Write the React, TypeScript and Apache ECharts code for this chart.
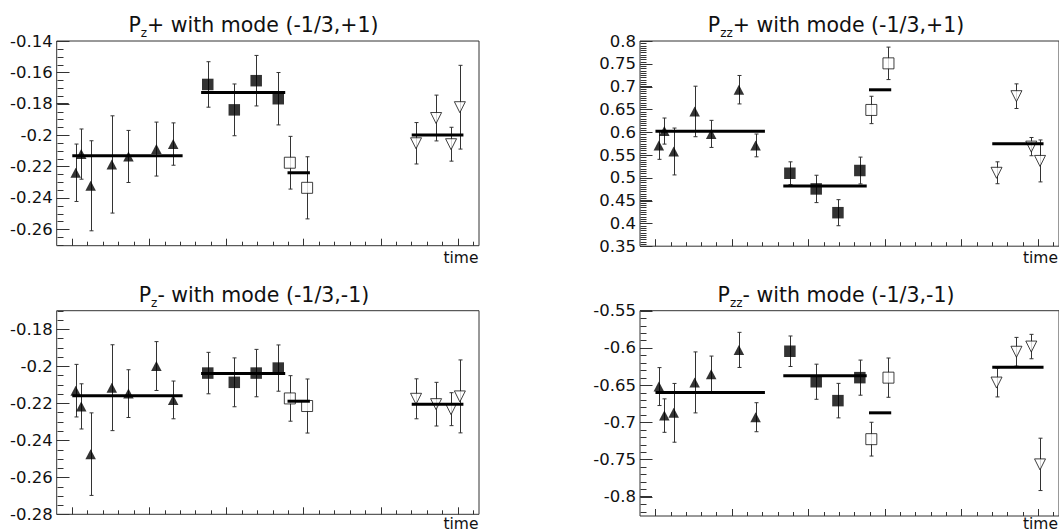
import React, { useEffect, useRef } from "react";
import * as echarts from "echarts";

// ---------- data ----------
// time positions (arbitrary units; one minor tick = 1)
const triTimes = [0.22, 0.58, 1.19, 2.56, 3.64, 5.45, 6.54];
const sqTimes = [8.78, 10.5, 11.92, 13.35];
const openTimes = [14.1, 15.22];
const downTimes = [22.28, 23.58, 24.55, 25.12];
// extent of each group's mean line
const triSpan = [0, 7.15];
const sqSpan = [8.35, 13.8];
const openSpan = [13.95, 15.4];
const downSpan = [22.0, 25.35];

// Pz+ with mode (-1/3,+1)
const pzPlusTri = [-0.224, -0.2121, -0.2323, -0.2187, -0.2136, -0.2089, -0.2057];
const pzPlusTriErr = [0.0183, 0.016, 0.0287, 0.031, 0.0166, 0.0172, 0.0135];
const pzPlusSq = [-0.1677, -0.1839, -0.1653, -0.1768];
const pzPlusSqErr = [0.0145, 0.0165, 0.0161, 0.0167];
const pzPlusOpen = [-0.2176, -0.2336];
const pzPlusOpenErr = [0.0168, 0.0198];
const pzPlusDown = [-0.2052, -0.1891, -0.2058, -0.1822];
const pzPlusDownErr = [0.0132, 0.0146, 0.0108, 0.0267];
const pzPlusMeans = [-0.2131, -0.1728, -0.224, -0.2];

// Pzz+ with mode (-1/3,+1)
const pzzPlusTri = [0.571, 0.6025, 0.5577, 0.6455, 0.5963, 0.6932, 0.571];
const pzzPlusTriErr = [0.0305, 0.0286, 0.0514, 0.0554, 0.0297, 0.0312, 0.025];
const pzzPlusSq = [0.51, 0.4756, 0.4235, 0.516];
const pzzPlusSqErr = [0.025, 0.03, 0.0286, 0.0294];
const pzzPlusOpen = [0.6488, 0.751];
const pzzPlusOpenErr = [0.03, 0.0356];
const pzzPlusDown = [0.511, 0.679, 0.5684, 0.537];
const pzzPlusDownErr = [0.024, 0.027, 0.02, 0.046];
const pzzPlusMeans = [0.602, 0.4822, 0.693, 0.5747];

// Pz- with mode (-1/3,-1)
const pzMinusTri = [-0.2132, -0.2217, -0.2475, -0.2116, -0.2148, -0.1999, -0.2182];
const pzMinusTriErr = [0.0142, 0.0122, 0.0223, 0.0232, 0.0129, 0.0132, 0.0102];
const pzMinusSq = [-0.2037, -0.2087, -0.2037, -0.201];
const pzMinusSqErr = [0.0112, 0.0132, 0.0128, 0.0125];
const pzMinusOpen = [-0.2174, -0.2215];
const pzMinusOpenErr = [0.0123, 0.0146];
const pzMinusDown = [-0.2176, -0.2205, -0.2232, -0.2163];
const pzMinusDownErr = [0.0108, 0.0118, 0.0089, 0.0197];
const pzMinusMeans = [-0.216, -0.2039, -0.2189, -0.2205];

// Pzz- with mode (-1/3,-1)
const pzzMinusTri = [-0.652, -0.691, -0.6873, -0.6464, -0.6355, -0.6027, -0.6932];
const pzzMinusTriErr = [0.0255, 0.0225, 0.0395, 0.041, 0.0245, 0.0236, 0.0195];
const pzzMinusSq = [-0.6045, -0.6455, -0.6709, -0.64];
const pzzMinusSqErr = [0.0205, 0.0236, 0.0232, 0.0236];
const pzzMinusOpen = [-0.7227, -0.64];
const pzzMinusOpenErr = [0.0227, 0.0264];
const pzzMinusDown = [-0.6466, -0.6052, -0.5982, -0.7566];
const pzzMinusDownErr = [0.0193, 0.0193, 0.0164, 0.0352];
const pzzMinusMeans = [-0.66, -0.6373, -0.6873, -0.6259];

// tick labels
const pzPlusTicks = [-0.26, -0.24, -0.22, -0.2, -0.18, -0.16, -0.14];
const pzPlusTickLabels = ["-0.26", "-0.24", "-0.22", "-0.2", "-0.18", "-0.16", "-0.14"];
const pzzPlusTicks = [0.35, 0.4, 0.45, 0.5, 0.55, 0.6, 0.65, 0.7, 0.75, 0.8];
const pzzPlusTickLabels = ["0.35", "0.4", "0.45", "0.5", "0.55", "0.6", "0.65", "0.7", "0.75", "0.8"];
const pzMinusTicks = [-0.28, -0.26, -0.24, -0.22, -0.2, -0.18];
const pzMinusTickLabels = ["-0.28", "-0.26", "-0.24", "-0.22", "-0.2", "-0.18"];
const pzzMinusTicks = [-0.8, -0.75, -0.7, -0.65, -0.6, -0.55];
const pzzMinusTickLabels = ["-0.8", "-0.75", "-0.7", "-0.65", "-0.6", "-0.55"];
const timeMajorTicks = [0, 5, 10, 15, 20, 25];
const timeMinorTicks = [0, 1, 2, 3, 4, 5, 6, 7, 8, 9, 10, 11, 12, 13, 14, 15, 16, 17, 18, 19, 20, 21, 22, 23, 24, 25, 26];

const titles = [
  { sub: "z", rest: "+ with mode (-1/3,+1)" },
  { sub: "zz", rest: "+ with mode (-1/3,+1)" },
  { sub: "z", rest: "- with mode (-1/3,-1)" },
  { sub: "zz", rest: "- with mode (-1/3,-1)" },
];
const xAxisTitle = "time";

// ---------- layout / style ----------
const FONT = '"DejaVu Sans", sans-serif';
const X_MIN = -1.01;
const X_MAX = 26.36;
const Y_MAJOR_LEN = 12;
const Y_MINOR_LEN = 6;

function steps(from: number, to: number, step: number): number[] {
  const out: number[] = [];
  const n = Math.round((to - from) / step);
  for (let i = 0; i <= n; i++) out.push(Math.round((from + i * step) * 10000) / 10000);
  return out;
}

const panels = [
  {
    grid: { left: 56.7, top: 41, width: 422.3, height: 204.7 },
    yMin: -0.2705, yMax: -0.14, ticks: pzPlusTicks, labels: pzPlusTickLabels,
    minor: steps(-0.27, -0.14, 0.005),
    tri: pzPlusTri, triErr: pzPlusTriErr, sq: pzPlusSq, sqErr: pzPlusSqErr,
    open: pzPlusOpen, openErr: pzPlusOpenErr, down: pzPlusDown, downErr: pzPlusDownErr, means: pzPlusMeans,
    titleX: 253.5, titleY: 25.3, timeX: 478.5, timeY: 258, timeVA: "middle",
  },
  {
    grid: { left: 640, top: 41, width: 422, height: 205.2 },
    yMin: 0.35, yMax: 0.8, ticks: pzzPlusTicks, labels: pzzPlusTickLabels,
    minor: steps(0.35, 0.8, 0.005),
    tri: pzzPlusTri, triErr: pzzPlusTriErr, sq: pzzPlusSq, sqErr: pzzPlusSqErr,
    open: pzzPlusOpen, openErr: pzzPlusOpenErr, down: pzzPlusDown, downErr: pzzPlusDownErr, means: pzzPlusMeans,
    titleX: 836, titleY: 25.3, timeX: 1058, timeY: 258, timeVA: "middle",
  },
  {
    grid: { left: 56.7, top: 310.7, width: 422.3, height: 203.6 },
    yMin: -0.28, yMax: -0.17, ticks: pzMinusTicks, labels: pzMinusTickLabels,
    minor: steps(-0.28, -0.17, 0.005),
    tri: pzMinusTri, triErr: pzMinusTriErr, sq: pzMinusSq, sqErr: pzMinusSqErr,
    open: pzMinusOpen, openErr: pzMinusOpenErr, down: pzMinusDown, downErr: pzMinusDownErr, means: pzMinusMeans,
    titleX: 254, titleY: 294.5, timeX: 478.5, timeY: 531.5, timeVA: "bottom",
  },
  {
    grid: { left: 640, top: 310.7, width: 422, height: 205.3 },
    yMin: -0.826, yMax: -0.55, ticks: pzzMinusTicks, labels: pzzMinusTickLabels,
    minor: steps(-0.82, -0.55, 0.01),
    tri: pzzMinusTri, triErr: pzzMinusTriErr, sq: pzzMinusSq, sqErr: pzzMinusSqErr,
    open: pzzMinusOpen, openErr: pzzMinusOpenErr, down: pzzMinusDown, downErr: pzzMinusDownErr, means: pzzMinusMeans,
    titleX: 836, titleY: 294.5, timeX: 1058, timeY: 531.5, timeVA: "bottom",
  },
];

const TICK_COLOR = "#333";
const ERR_COLOR = "#333";
const DOWN_TRIANGLE = "path://M0,0L10,0L5,9.5Z";

function pairs(xs: number[], ys: number[]) {
  return xs.map((x, i) => [x, ys[i]]);
}
function triples(xs: number[], ys: number[], es: number[]) {
  return xs.map((x, i) => [x, ys[i], es[i]]);
}

// y-axis minor/major ticks as one polyline per panel (zig-zag along the frame's left edge)
function yTickGraphics() {
  const out: any[] = [];
  panels.forEach((p, i) => {
    const g = p.grid;
    const toY = (v: number) => g.top + ((p.yMax - v) / (p.yMax - p.yMin)) * g.height;
    const x0 = Math.round(g.left) + 0.5;
    const all = [
      ...p.minor.map((v) => ({ v, len: Y_MINOR_LEN })),
      ...p.ticks.map((v) => ({ v, len: Y_MAJOR_LEN })),
    ];
    all.forEach((t, k) => {
      const y = Math.round(toY(t.v)) + 0.5;
      out.push({
        type: "rect", id: `yt${i}_${k}`, silent: true, z: 50,
        shape: { x: x0, y: y - 0.5, width: t.len, height: 1 },
        style: { fill: TICK_COLOR, stroke: null },
      });
    });
  });
  return out;
}

function buildOption() {
  const grid: any[] = [];
  const xAxis: any[] = [];
  const yAxis: any[] = [];
  const series: any[] = [];
  const graphic: any[] = [];

  panels.forEach((p, i) => {
    grid.push({
      ...p.grid,
      show: true,
      borderColor: "#333",
      borderWidth: 1,
      backgroundColor: "transparent",
      containLabel: false,
    });
    const xBase = {
      type: "value", gridIndex: i, min: X_MIN, max: X_MAX, position: "bottom", offset: 0,
      axisLine: { show: false, onZero: false }, splitLine: { show: false }, axisLabel: { show: false },
    };
    xAxis.push({
      ...xBase,
      axisTick: { show: true, inside: true, length: 7, customValues: timeMajorTicks, lineStyle: { color: TICK_COLOR, width: 1 } },
    });
    xAxis.push({
      ...xBase,
      axisTick: { show: true, inside: true, length: 4, customValues: timeMinorTicks, lineStyle: { color: TICK_COLOR, width: 1 } },
    });
    const fmt = (v: number) => {
      let best = 0;
      p.ticks.forEach((t, k) => {
        if (Math.abs(t - v) < Math.abs(p.ticks[best] - v)) best = k;
      });
      return p.labels[best];
    };
    yAxis.push({
      type: "value", gridIndex: i, min: p.yMin, max: p.yMax, position: "left", offset: 0,
      axisLine: { show: false, onZero: false }, splitLine: { show: false },
      axisTick: { show: true, inside: true, length: Y_MAJOR_LEN, customValues: p.ticks, lineStyle: { color: TICK_COLOR, width: 1 } },
      axisLabel: {
        show: true, customValues: p.ticks, formatter: fmt, margin: 4,
        fontSize: 16.5, fontFamily: FONT, color: "#111",
      },
    });

    const xi = 2 * i;
    const yi = i;

    const errData = [
      ...triples(triTimes, p.tri, p.triErr),
      ...triples(sqTimes, p.sq, p.sqErr),
      ...triples(openTimes, p.open, p.openErr),
      ...triples(downTimes, p.down, p.downErr),
    ];
    series.push({
      type: "custom", xAxisIndex: xi, yAxisIndex: yi, z: 1, silent: true,
      encode: { x: 0, y: 1 },
      data: errData,
      renderItem: (_params: any, api: any) => {
        const x = api.value(0), y = api.value(1), e = api.value(2);
        const top = api.coord([x, y + e]);
        const bot = api.coord([x, y - e]);
        const style = { stroke: ERR_COLOR, lineWidth: 1 };
        const cx = Math.round(top[0]) + 0.5;
        return {
          type: "group",
          children: [
            { type: "line", shape: { x1: cx, y1: top[1], x2: cx, y2: bot[1] }, style },
            { type: "line", shape: { x1: cx - 2, y1: top[1], x2: cx + 2, y2: top[1] }, style },
            { type: "line", shape: { x1: cx - 2, y1: bot[1], x2: cx + 2, y2: bot[1] }, style },
          ],
        };
      },
    });

    series.push({
      type: "scatter", xAxisIndex: xi, yAxisIndex: yi, z: 2, silent: true,
      symbol: "triangle", symbolSize: [10.5, 10],
      itemStyle: { color: "#000" },
      data: pairs(triTimes, p.tri),
    });
    series.push({
      type: "scatter", xAxisIndex: xi, yAxisIndex: yi, z: 2, silent: true,
      symbol: "rect", symbolSize: 11.5,
      itemStyle: { color: "#000" },
      data: pairs(sqTimes, p.sq),
    });
    series.push({
      type: "scatter", xAxisIndex: xi, yAxisIndex: yi, z: 2, silent: true,
      symbol: "rect", symbolSize: 11,
      itemStyle: { color: "#fff", borderColor: "#111", borderWidth: 1 },
      data: pairs(openTimes, p.open),
    });
    series.push({
      type: "scatter", xAxisIndex: xi, yAxisIndex: yi, z: 2, silent: true,
      symbol: DOWN_TRIANGLE, symbolSize: [11, 11],
      itemStyle: { color: "#fff", borderColor: "#111", borderWidth: 1 },
      data: pairs(downTimes, p.down),
    });

    const spans = [triSpan, sqSpan, openSpan, downSpan];
    series.push({
      type: "custom", xAxisIndex: xi, yAxisIndex: yi, z: 3, silent: true,
      encode: { x: [0, 1], y: 2 },
      data: spans.map((s, k) => [s[0], s[1], p.means[k]]),
      renderItem: (_params: any, api: any) => {
        const a = api.coord([api.value(0), api.value(2)]);
        const b = api.coord([api.value(1), api.value(2)]);
        return {
          type: "line",
          shape: { x1: a[0], y1: a[1], x2: b[0], y2: b[1] },
          style: { stroke: "#000", lineWidth: 3 },
        };
      },
    });

    graphic.push({
      type: "text", x: p.titleX, y: p.titleY, silent: true, z: 10,
      style: {
        text: `{m|P}{s|${titles[i].sub}}{m|${titles[i].rest}}`,
        align: "center", verticalAlign: "middle",
        rich: {
          m: { fontSize: 20.5, fontFamily: FONT, fill: "#111", lineHeight: 28, verticalAlign: "middle" },
          s: { fontSize: 12, fontFamily: FONT, fill: "#111", lineHeight: 10, verticalAlign: "bottom" },
        },
      },
    });
    graphic.push({
      type: "text", x: p.timeX, y: p.timeY, silent: true, z: 10,
      style: {
        text: xAxisTitle, align: "right", verticalAlign: p.timeVA,
        fontSize: 15.5, fontFamily: FONT, fill: "#111",
      },
    });
  });

  graphic.push(...yTickGraphics());

  return {
    animation: false,
    backgroundColor: "#fff",
    grid, xAxis, yAxis, series, graphic,
  };
}

export default function App() {
  const ref = useRef<HTMLDivElement>(null);
  useEffect(() => {
    if (!ref.current) return;
    const chart = echarts.init(ref.current, undefined, { renderer: "svg" });
    chart.setOption(buildOption() as any);
    return () => chart.dispose();
  }, []);
  return (
    <div
      ref={ref}
      style={{ position: "fixed", left: 0, top: 0, width: 1059, height: 532, background: "#fff" }}
    />
  );
}
